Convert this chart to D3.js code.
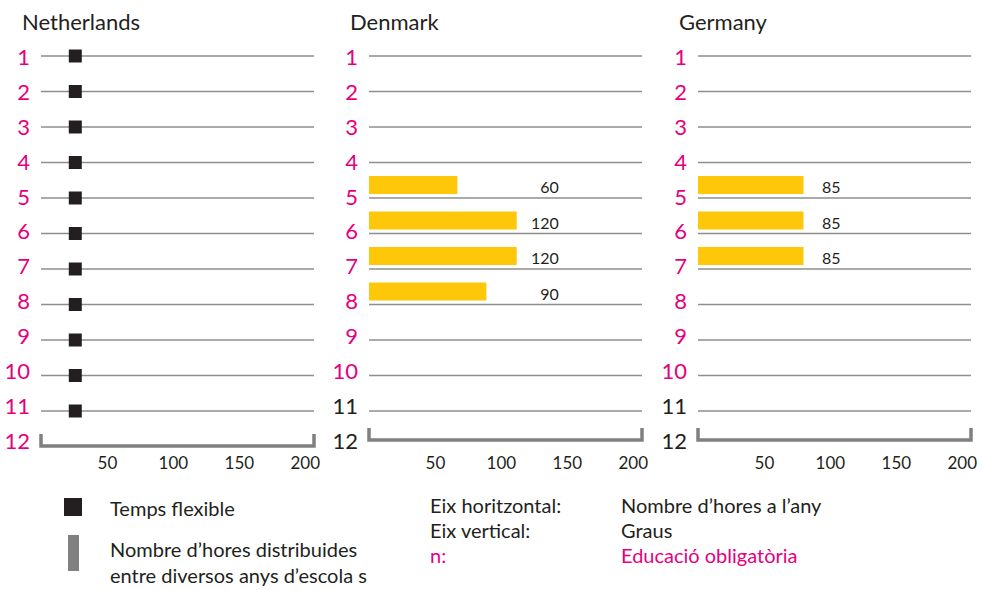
<!DOCTYPE html>
<html>
<head>
<meta charset="utf-8">
<script src="https://cdn.jsdelivr.net/npm/d3@7"></script>
<style>
body { margin: 0; background: #fff; }
text { font-family: Lato, "Open Sans", sans-serif; }
</style>
</head>
<body>
<div id="output"></div>
<script>
// grades on the vertical axis
var grades = [1, 2, 3, 4, 5, 6, 7, 8, 9, 10, 11, 12];
var xTicks = [50, 100, 150, 200];

// Netherlands: flexible time markers
var nlGrades = [1, 2, 3, 4, 5, 6, 7, 8, 9, 10, 11];
var nlFlex = [26, 26, 26, 26, 26, 26, 26, 26, 26, 26, 26];

// Denmark: hours (bar length as drawn) and printed labels
var dkGrades = [5, 6, 7, 8];
var dkHours = [67, 112, 112, 89];
var dkLabels = ["60", "120", "120", "90"];

// Germany
var deGrades = [5, 6, 7];
var deHours = [80, 80, 80];
var deLabels = ["85", "85", "85"];

var w = 982, h = 590;
var pink = "#e6007e", ink = "#231f20", gold = "#ffc709",
    rule = "#8e8e8e", bracketGrey = "#808080";

var svg = d3.select("#output").append("svg")
    .attr("width", w)
    .attr("height", h);

var x = d3.scaleLinear()
    .domain([0, 207])
    .range([0, 273]);

var y = d3.scaleLinear()
    .domain([1, 12])
    .range([56, 446.5]);

// grade labels drift slightly upward relative to the rules
var yLab = d3.scaleLinear()
    .domain([1, 12])
    .range([57, 441]);

var panels = [
    {name: "Netherlands", left: 41, pinkUpTo: 12, bracketY: 446},
    {name: "Denmark", left: 369, pinkUpTo: 10, bracketY: 440,
        grades: dkGrades, hours: dkHours, labels: dkLabels, labelAt: 144, anchor: "end"},
    {name: "Germany", left: 698, pinkUpTo: 10, bracketY: 440,
        grades: deGrades, hours: deHours, labels: deLabels, labelAt: 94, anchor: "start"}
];

panels.forEach(function (p, pi) {
    var g = svg.append("g")
        .attr("transform", "translate(" + p.left + ",0)");

    g.append("text")
        .attr("x", -19)
        .attr("y", 30)
        .attr("font-size", 22)
        .attr("fill", ink)
        .text(p.name);

    g.selectAll(".rule")
        .data(grades.slice(0, 11))
        .enter()
        .append("line")
        .attr("class", "rule")
        .attr("x1", x(0))
        .attr("x2", x(207))
        .attr("y1", function (d) { return y(d); })
        .attr("y2", function (d) { return y(d); })
        .attr("stroke", rule)
        .attr("stroke-width", 1.6);

    g.append("path")
        .attr("d", "M" + x(0) + "," + (p.bracketY - 12) + "V" + p.bracketY +
            "H" + x(207) + "V" + (p.bracketY - 12))
        .attr("fill", "none")
        .attr("stroke", bracketGrey)
        .attr("stroke-width", 3.5);

    g.selectAll(".grade")
        .data(grades)
        .enter()
        .append("text")
        .attr("class", "grade")
        .attr("x", -11)
        .attr("y", function (d) { return yLab(d); })
        .attr("dy", "0.36em")
        .attr("text-anchor", "end")
        .attr("font-size", 22)
        .attr("fill", function (d) { return d <= p.pinkUpTo ? pink : ink; })
        .text(function (d) { return d; });

    var xAxis = d3.axisBottom(x)
        .tickValues(xTicks)
        .tickSize(0)
        .tickPadding(0);

    var ax = g.append("g")
        .attr("transform", "translate(0,457)")
        .call(xAxis);
    ax.select(".domain").remove();
    ax.selectAll("text")
        .attr("font-size", 17)
        .attr("font-family", "Lato, sans-serif")
        .attr("fill", ink);

    if (pi === 0) {
        g.selectAll(".flex")
            .data(nlGrades)
            .enter()
            .append("rect")
            .attr("class", "flex")
            .attr("x", function (d, i) { return x(nlFlex[i]) - 6.5; })
            .attr("y", function (d) { return y(d) - 6.5; })
            .attr("width", 13)
            .attr("height", 13)
            .attr("fill", ink);
    } else {
        g.selectAll(".bar")
            .data(p.grades)
            .enter()
            .append("rect")
            .attr("class", "bar")
            .attr("x", x(0))
            .attr("y", function (d) { return y(d) - 22; })
            .attr("width", function (d, i) { return x(p.hours[i]) - x(0); })
            .attr("height", 18)
            .attr("fill", gold);

        g.selectAll(".val")
            .data(p.grades)
            .enter()
            .append("text")
            .attr("class", "val")
            .attr("x", x(p.labelAt))
            .attr("y", function (d) { return y(d) - 5; })
            .attr("text-anchor", p.anchor)
            .attr("font-size", 16)
            .attr("fill", ink)
            .text(function (d, i) { return p.labels[i]; });
    }
});

// legend
var legend = svg.append("g");
legend.append("rect")
    .attr("x", 64).attr("y", 498)
    .attr("width", 18).attr("height", 18)
    .attr("fill", ink);
legend.append("rect")
    .attr("x", 68).attr("y", 535)
    .attr("width", 11).attr("height", 36)
    .attr("fill", bracketGrey);

var legendText = [
    {t: "Temps flexible", x: 110, y: 516, c: ink},
    {t: "Nombre d\u2019hores distribuides", x: 110, y: 557, c: ink},
    {t: "entre diversos anys d\u2019escola s", x: 110, y: 583, c: ink},
    {t: "Eix horitzontal:", x: 430, y: 513, c: ink},
    {t: "Eix vertical:", x: 430, y: 538, c: ink},
    {t: "n:", x: 430, y: 563, c: pink},
    {t: "Nombre d\u2019hores a l\u2019any", x: 621, y: 513, c: ink},
    {t: "Graus", x: 621, y: 538, c: ink},
    {t: "Educaci\u00f3 obligat\u00f2ria", x: 621, y: 563, c: pink}
];

legend.selectAll(".lt")
    .data(legendText)
    .enter()
    .append("text")
    .attr("class", "lt")
    .attr("x", function (d) { return d.x; })
    .attr("y", function (d) { return d.y; })
    .attr("font-size", 20)
    .attr("fill", function (d) { return d.c; })
    .text(function (d) { return d.t; });
</script>
</body>
</html>
